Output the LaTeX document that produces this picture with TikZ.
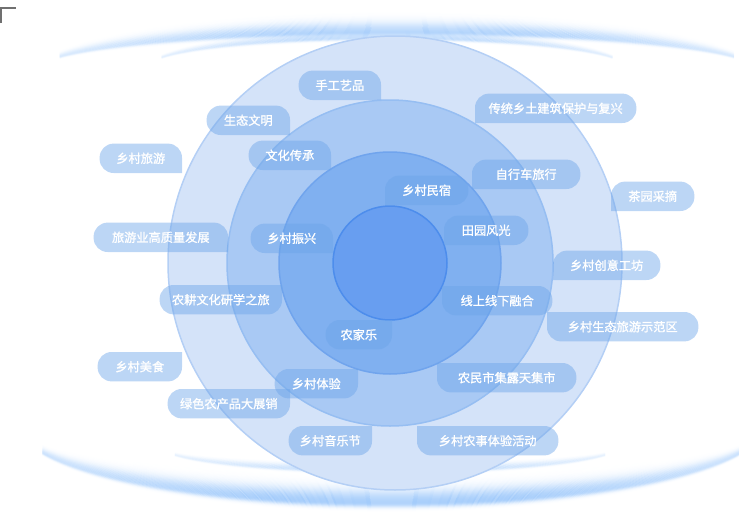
\documentclass[tikz,border=0pt]{standalone}
\usepackage{fontspec}
\newfontfamily\cjk[FakeBold=1.2]{Noto Sans CJK SC}
\usepackage{tikz}
\usetikzlibrary{calc}
\usetikzlibrary{fadings}

\definecolor{ringA}{RGB}{212,227,249}
\definecolor{ringAline}{RGB}{180,207,245}
\definecolor{ringB}{RGB}{169,201,244}
\definecolor{ringBline}{RGB}{150,190,242}
\definecolor{ringC}{RGB}{128,176,240}
\definecolor{ringCline}{RGB}{112,164,237}
\definecolor{core}{RGB}{104,158,240}
\definecolor{coreline}{RGB}{77,141,236}
\definecolor{tagblue}{RGB}{107,164,233}
\definecolor{glowblue}{RGB}{150,196,250}
\definecolor{markgray}{RGB}{112,112,112}

\begin{tikzfadingfrompicture}[name=fade ends]
  \shade[left color=transparent!100, right color=transparent!0] (-1,-1) rectangle (-0.3,1);
  \fill[transparent!0] (-0.3,-1) rectangle (0.3,1);
  \shade[left color=transparent!0, right color=transparent!100] (0.3,-1) rectangle (1,1);
\end{tikzfadingfrompicture}
\pgfdeclarelayer{back}
\pgfsetlayers{back,main}

\tikzset{
  tag/.style={text=white, font=\cjk\fontsize{12.2}{14}\selectfont, minimum height=29pt, inner xsep=4pt, inner ysep=0pt},
  tagfill/.style={fill=tagblue, fill opacity=0.45},
  glow/.style={draw=glowblue, line width=1.3pt, path fading=fade ends}
}

\begin{document}
\begin{tikzpicture}[x=1pt,y=-1pt]
\useasboundingbox (0,0) rectangle (739,522);

% corner mark
\draw[markgray, line width=1.3pt] (1,23) -- (1,8) -- (16,8);

\begin{pgfonlayer}{back}
% glows top and bottom
\foreach \k [evaluate=\k as \ry using 32+\k, evaluate=\k as \op using 0.6*exp(-((\k-6)/(3+(\k>6)*6))^2)] in {0,...,26}
  \draw[glow, draw opacity=\op] (397,70) ++(200:359 and \ry) arc[start angle=200, end angle=340, x radius=359, y radius=\ry];
\foreach \k [evaluate=\k as \ry using 24+\k, evaluate=\k as \op using 0.45*exp(-((\k-6)/(2+(\k>6)*3))^2)] in {0,...,14}
  \draw[glow, draw opacity=\op] (387,68) ++(200:240 and \ry) arc[start angle=200, end angle=340, x radius=240, y radius=\ry];
\foreach \k [evaluate=\k as \ry using 92-\k, evaluate=\k as \op using 0.75*exp(-((\k-16)/(4+(\k>16)*8))^2)] in {0,...,44}
  \draw[glow, draw opacity=\op] (392,427) ++(160:372 and \ry) arc[start angle=160, end angle=20, x radius=372, y radius=\ry];
\foreach \k [evaluate=\k as \ry using 28-\k, evaluate=\k as \op using 0.4*exp(-((\k-4)/(2+(\k>4)*3))^2)] in {0,...,12}
  \draw[glow, draw opacity=\op] (390,447) ++(160:229 and \ry) arc[start angle=160, end angle=20, x radius=229, y radius=\ry];

% rings
\filldraw[fill=ringA, draw=ringAline, line width=1.5pt] (395,263) circle[radius=227];
\filldraw[fill=ringB, draw=ringBline, line width=1.5pt] (390,263) circle[radius=163];
\filldraw[fill=ringC, draw=ringCline, line width=1.5pt] (390,263) circle[radius=111];
\filldraw[fill=core, draw=coreline, line width=1.5pt] (390,263) circle[radius=57];
\end{pgfonlayer}

% tags, square corner at the given point
\foreach \px/\py/\anc/\w/\nm/\txt in {
  385/205/south west/83/minsu/乡村民宿,
  444/245/south west/84/tianyuan/田园风光,
  442/286/north west/110/xianshang/线上线下融合,
  392/320/north east/66/nongjiale/农家乐,
  333/253/south east/82/zhenxing/乡村振兴,
  331/170/south east/82/chuancheng/文化传承,
  472/189/south west/108/zixingche/自行车旅行,
  282/285/north east/122/nonggeng/农耕文化研学之旅,
  358/369/north east/83/tiyan/乡村体验,
  437/363/north west/139/shiji/农民市集露天集市,
  381/100/south east/82/shougong/手工艺品,
  290/135/south east/83/shengtai/生态文明,
  475/123/south west/161/jianzhu/传统乡土建筑保护与复兴,
  228/252/south east/134/gaozhiliang/旅游业高质量发展,
  553/280/south west/107/chuangyi/乡村创意工坊,
  547/312/north west/151/shifanqu/乡村生态旅游示范区,
  290/389/north east/122/zhanxiao/绿色农产品大展销,
  372/426/north east/83/yinyue/乡村音乐节,
  417/426/north west/141/nongshi/乡村农事体验活动,
  182/173/south east/82/lvyou/乡村旅游,
  611/211/south west/83/caizhai/茶园采摘,
  182/352/north east/84/meishi/乡村美食%
}{
  \node[tag, minimum width=\w pt, anchor=\anc] (\nm) at (\px,\py) {\txt};
  \coordinate (\nm-o) at ($(\nm.\anc)!2!(\nm.center)$);
  \begin{pgfonlayer}{back}
    \fill[tagfill] (\nm.\anc) [rounded corners=14pt] -- (\nm.\anc |- \nm-o) -- (\nm-o) -- (\nm-o |- \nm.\anc) -- (\nm.\anc);
  \end{pgfonlayer}
}
\end{tikzpicture}
\end{document}
